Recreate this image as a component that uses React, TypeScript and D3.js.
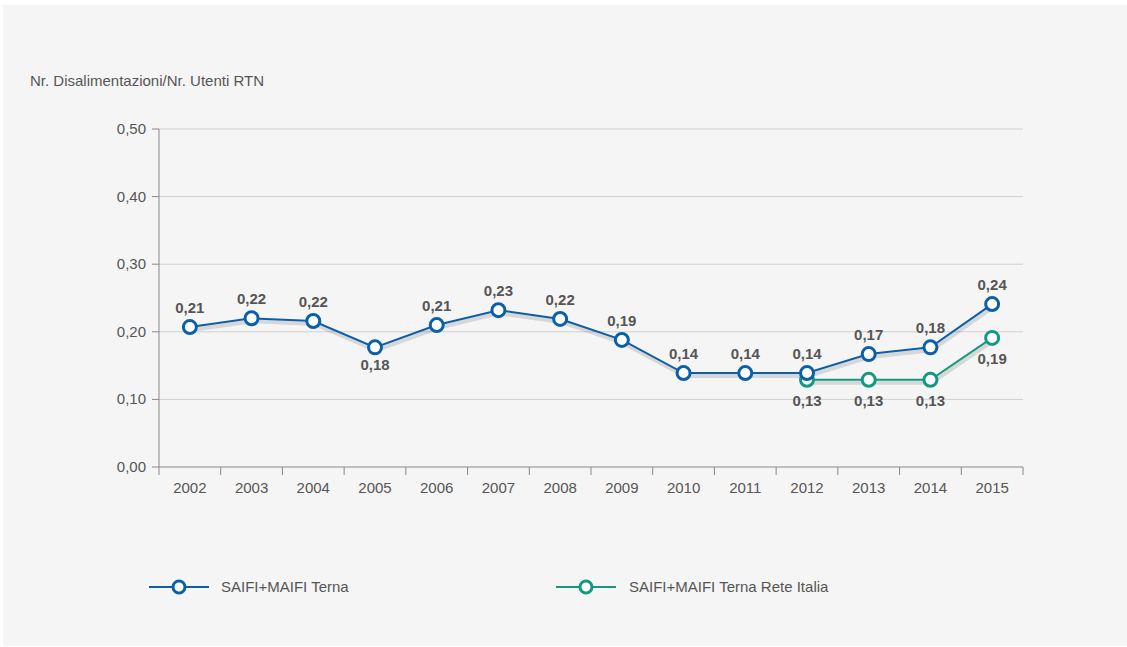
import React from "react";
import * as d3 from "d3";

const years = ["2002","2003","2004","2005","2006","2007","2008","2009","2010","2011","2012","2013","2014","2015"];
const terna = [0.207,0.220,0.216,0.177,0.210,0.232,0.219,0.188,0.139,0.139,0.139,0.167,0.177,0.241];
const ternaLabels = ["0,21","0,22","0,22","0,18","0,21","0,23","0,22","0,19","0,14","0,14","0,14","0,17","0,18","0,24"];
const ternaBelow = [false,false,false,true,false,false,false,false,false,false,false,false,false,false];
const rteYears = ["2012","2013","2014","2015"];
const rte = [0.129,0.129,0.129,0.191];
const rteLabels = ["0,13","0,13","0,13","0,19"];
const yTicks = [0,0.1,0.2,0.3,0.4,0.5];

const BLUE = "#0b5ea8";
const GREEN = "#12997f";
const TEXT = "#555";
const FONT = "'Liberation Sans', Arial, Helvetica, sans-serif";

export default function App() {
  const left = 159, right = 1023, top = 129, bottom = 467;
  const x = d3.scaleBand<string>().domain(years).range([left, right]).padding(0);
  const y = d3.scaleLinear().domain([0, 0.5]).range([bottom, top]);
  const cx = (yr: string) => (x(yr) as number) + x.bandwidth() / 2;
  const line = d3.line<[string, number]>().x(d => cx(d[0])).y(d => y(d[1]));
  const tData: [string, number][] = years.map((yr, i) => [yr, terna[i]]);
  const gData: [string, number][] = rteYears.map((yr, i) => [yr, rte[i]]);
  const fmt = (v: number) => d3.format(".2f")(v).replace(".", ",");
  const boundaries = years.map(yr => x(yr) as number).concat([right]);

  return (
    <svg width={1127} height={647} style={{ position: "absolute", left: 0, top: 0 }} fontFamily={FONT}>
      <rect x={0} y={0} width={1127} height={647} fill="#fff" />
      <rect x={3} y={5} width={1124} height={641} fill="#f5f5f5" />
      <text x={30} y={86} fontSize={15} fill={TEXT}>Nr. Disalimentazioni/Nr. Utenti RTN</text>
      {yTicks.map(t => (
        <g key={t}>
          {t > 0 && <line x1={left} x2={right} y1={y(t)} y2={y(t)} stroke="#d0d0d0" strokeWidth={1} />}
          <line x1={152} x2={left} y1={y(t)} y2={y(t)} stroke="#888" strokeWidth={1} />
          <text x={146} y={y(t) + 5} fontSize={15} fill={TEXT} textAnchor="end">{fmt(t)}</text>
        </g>
      ))}
      <line x1={left} x2={left} y1={top} y2={bottom} stroke="#888" strokeWidth={1} />
      <line x1={left} x2={right} y1={bottom} y2={bottom} stroke="#888" strokeWidth={1} />
      {boundaries.map((b, i) => (
        <line key={i} x1={b} x2={b} y1={bottom} y2={bottom + 8} stroke="#888" strokeWidth={1} />
      ))}
      {years.map(yr => (
        <text key={yr} x={cx(yr)} y={493} fontSize={15} fill={TEXT} textAnchor="middle">{yr}</text>
      ))}
      {/* shadows */}
      <path d={line(gData) || ""} fill="none" stroke="rgba(0,0,0,0.12)" strokeWidth={4} transform="translate(1,3)" />
      <path d={line(tData) || ""} fill="none" stroke="rgba(0,0,0,0.12)" strokeWidth={4} transform="translate(1,3)" />
      {/* green series */}
      <path d={line(gData) || ""} fill="none" stroke={GREEN} strokeWidth={2} />
      {gData.map((d, i) => (
        <g key={"g" + i}>
          <circle cx={cx(d[0])} cy={y(d[1])} r={6.5} fill="#fff" stroke={GREEN} strokeWidth={3} />
          <text x={cx(d[0])} y={y(d[1]) + 26} fontSize={15} fontWeight="bold" fill={TEXT} textAnchor="middle">{rteLabels[i]}</text>
        </g>
      ))}
      {/* blue series */}
      <path d={line(tData) || ""} fill="none" stroke={BLUE} strokeWidth={2} />
      {tData.map((d, i) => (
        <g key={"t" + i}>
          <circle cx={cx(d[0])} cy={y(d[1])} r={6.5} fill="#fff" stroke={BLUE} strokeWidth={3} />
          <text x={cx(d[0])} y={ternaBelow[i] ? y(d[1]) + 23 : y(d[1]) - 14} fontSize={15} fontWeight="bold" fill={TEXT} textAnchor="middle">{ternaLabels[i]}</text>
        </g>
      ))}
      {/* legend */}
      <g>
        <line x1={149} x2={209} y1={587} y2={587} stroke={BLUE} strokeWidth={2} />
        <circle cx={179} cy={587} r={6} fill="#fff" stroke={BLUE} strokeWidth={3} />
        <text x={221} y={592} fontSize={15} fill={TEXT}>SAIFI+MAIFI Terna</text>
        <line x1={556} x2={616} y1={587} y2={587} stroke={GREEN} strokeWidth={2} />
        <circle cx={586} cy={587} r={6} fill="#fff" stroke={GREEN} strokeWidth={3} />
        <text x={629} y={592} fontSize={15} fill={TEXT}>SAIFI+MAIFI Terna Rete Italia</text>
      </g>
    </svg>
  );
}
